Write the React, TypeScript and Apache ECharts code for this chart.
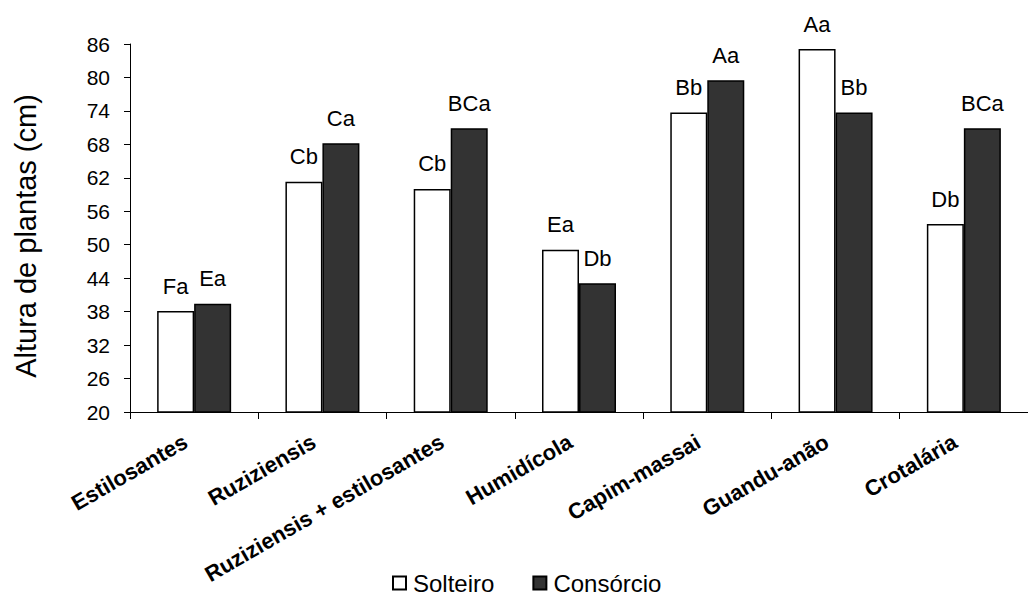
import React, { useEffect, useRef } from "react";
import * as echarts from "echarts";

const categories = [
  "Estilosantes",
  "Ruziziensis",
  "Ruziziensis + estilosantes",
  "Humidícola",
  "Capim-massai",
  "Guandu-anão",
  "Crotalária",
];
const solteiro = [38.1, 61.3, 60.0, 49.1, 73.7, 85.1, 53.7];
const consorcio = [39.4, 68.2, 70.9, 43.1, 79.5, 73.7, 70.9];
const solteiroLetters = ["Fa", "Cb", "Cb", "Ea", "Bb", "Aa", "Db"];
const consorcioLetters = ["Ea", "Ca", "BCa", "Db", "Aa", "Bb", "BCa"];
const yMin = 20;
const yMax = 86;
const yStep = 6;

const FONT = "Liberation Sans, Arial, sans-serif";

export default function App() {
  const ref = useRef<HTMLDivElement>(null);
  useEffect(() => {
    if (!ref.current) return;
    const chart = echarts.init(ref.current, null, { renderer: "svg" });
    const labelCommon = {
      show: true,
      position: "top" as const,
      distance: 14,
      fontFamily: FONT,
      fontSize: 22,
      color: "#000",
    };
    chart.setOption({
      animation: false,
      backgroundColor: "#fff",
      textStyle: { fontFamily: FONT },
      grid: { left: 130, top: 44, right: -10, bottom: 183, containLabel: false },
      legend: {
        bottom: 0,
        left: 392,
        padding: 0,
        icon: "rect",
        itemWidth: 13,
        itemHeight: 13,
        itemGap: 38,
        textStyle: { fontFamily: FONT, fontSize: 24, lineHeight: 24, color: "#000", padding: [0, 0, 0, 2] },
        data: ["Solteiro", "Consórcio"],
      },
      xAxis: {
        type: "category",
        data: categories,
        axisLine: { lineStyle: { color: "#000", width: 1 } },
        axisTick: { show: true, length: 7, lineStyle: { color: "#000" } },
        axisLabel: {
          interval: 0,
          rotate: 30,
          margin: 23,
          padding: [0, 10, 0, 0],
          fontFamily: FONT,
          fontSize: 22,
          fontWeight: "bold",
          color: "#000",
        },
      },
      yAxis: {
        type: "value",
        min: yMin,
        max: yMax,
        interval: yStep,
        name: "Altura de plantas (cm)",
        nameLocation: "middle",
        nameGap: 90,
        nameTextStyle: { fontFamily: FONT, fontSize: 29, color: "#000", padding: [0, 16, 0, 0] },
        axisLine: { show: true, lineStyle: { color: "#000", width: 1 } },
        axisTick: { show: true, length: 6, lineStyle: { color: "#000" } },
        splitLine: { show: false },
        axisLabel: { fontFamily: FONT, fontSize: 21, color: "#000", margin: 20 },
      },
      series: [
        {
          name: "Solteiro",
          type: "bar",
          data: solteiro,
          barWidth: 37,
          barGap: "0%",
          itemStyle: { color: "#fff", borderColor: "#000", borderWidth: 1.5 },
          label: {
            ...labelCommon,
            formatter: (p: any) => solteiroLetters[p.dataIndex],
          },
        },
        {
          name: "Consórcio",
          type: "bar",
          data: consorcio,
          barWidth: 37,
          barGap: "0%",
          itemStyle: { color: "#333333", borderColor: "#000", borderWidth: 1.5 },
          label: {
            ...labelCommon,
            formatter: (p: any) => consorcioLetters[p.dataIndex],
          },
        },
      ],
    });
    return () => chart.dispose();
  }, []);
  return (
    <div
      ref={ref}
      style={{ position: "fixed", left: 0, top: 0, width: 1028, height: 595, background: "#fff" }}
    />
  );
}
